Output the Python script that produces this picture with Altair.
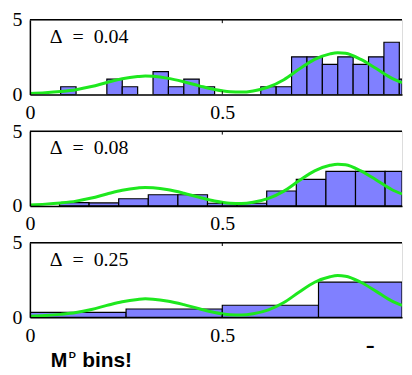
import altair as alt
import pandas as pd

# ---- data ----
p1_start = [0.08, 0.20, 0.24, 0.32, 0.36, 0.40, 0.44, 0.60, 0.64, 0.68, 0.72, 0.76, 0.80, 0.84, 0.88, 0.92, 0.96]
p1_width = 0.04
p1_dens = [0.52, 1.03, 0.52, 1.53, 0.52, 1.03, 0.52, 0.52, 0.52, 2.52, 2.52, 2.02, 2.52, 2.02, 2.52, 3.5, 1.03]

p2_start = [1/13, 2/13, 3/13, 4/13, 5/13, 6/13, 7/13, 8/13, 9/13, 10/13, 11/13, 12/13]
p2_width = 1/13
p2_dens = [0.22, 0.2, 0.48, 0.75, 0.75, 0.18, 0.18, 1.0, 1.78, 2.32, 2.32, 2.32]

p3_start = [0.0, 0.25, 0.5, 0.75]
p3_width = 0.25
p3_dens = [0.34, 0.56, 0.81, 2.36]

curve_x = [0.00, 0.04, 0.08, 0.12, 0.16, 0.20, 0.24, 0.28, 0.30, 0.32, 0.36, 0.40, 0.44, 0.48,
           0.52, 0.55, 0.58, 0.62, 0.66, 0.70, 0.74, 0.78, 0.80, 0.82, 0.86, 0.90, 0.94, 0.967]
curve_y = [0.07, 0.12, 0.2, 0.32, 0.53, 0.8, 1.05, 1.2, 1.24, 1.22, 1.08, 0.85, 0.58, 0.33,
           0.18, 0.16, 0.24, 0.5, 0.99, 1.7, 2.35, 2.72, 2.8, 2.76, 2.35, 1.74, 1.1, 0.8]

labels = ["\u0394\u2002=\u20020.04", "\u0394\u2002=\u20020.08", "\u0394\u2002=\u20020.25"]
x_ticks = [0, 0.5]
y_ticks = [0, 5]

BAR = "#8080ff"
GREEN = "#1ee81e"
W, H = 374, 75

xs = alt.Scale(domain=[0, 0.967], nice=False, zero=False, clamp=True)
ys = alt.Scale(domain=[0, 5], nice=False)

xaxis = alt.Axis(values=x_ticks, format="~g", title=None, grid=False, ticks=False, tickSize=0,
                 labelFont="Liberation Serif", labelFontSize=20, labelColor="black",
                 labelPadding=8, labelFlush=False, domainColor="black", domainWidth=1.5, zindex=1)
yaxis = alt.Axis(values=y_ticks, title=None, grid=False, ticks=False, tickSize=0,
                 labelFont="Liberation Serif", labelFontSize=20, labelColor="black",
                 labelPadding=8, domainColor="black", domainWidth=1.5, zindex=1,
                 minExtent=21, maxExtent=21)

curve_df = pd.DataFrame({"cx": curve_x, "cy": curve_y})
frame_df = pd.DataFrame({"v": [5]})
tick_df = pd.DataFrame({"tx": [0.5, 0.5], "ty": [5, 0], "ty2": [4.78, 0.22]})


def panel(starts, width, dens, label, extra=None):
    df = pd.DataFrame({"x0": starts, "x1": [s + width for s in starts], "h": dens,
                       "b": [0] * len(starts)})
    bars = alt.Chart(df).mark_rect(fill=BAR, stroke="black", strokeWidth=1.2, clip=True).encode(
        x=alt.X("x0:Q", scale=xs, axis=xaxis),
        x2="x1:Q",
        y=alt.Y("h:Q", scale=ys, axis=yaxis),
        y2="b:Q",
    )
    curve = alt.Chart(curve_df).mark_line(color=GREEN, strokeWidth=3, clip=True,
                                          interpolate="monotone").encode(
        x=alt.X("cx:Q", scale=xs), y=alt.Y("cy:Q", scale=ys))
    top = alt.Chart(frame_df).mark_rule(color="black", strokeWidth=1.5).encode(
        y=alt.Y("v:Q", scale=ys))
    ticks = alt.Chart(tick_df).mark_rule(color="black", strokeWidth=1).encode(
        x=alt.X("tx:Q", scale=xs), y=alt.Y("ty:Q", scale=ys), y2="ty2:Q")
    txt = alt.Chart(pd.DataFrame({"t": [label]})).mark_text(
        align="left", baseline="middle", font="Liberation Serif", fontSize=20, color="black"
    ).encode(x=alt.value(20), y=alt.value(17), text="t:N")
    layers = [bars, curve, top, ticks, txt]
    if extra:
        layers += extra
    return alt.layer(*layers).properties(width=W, height=H)


note = [
    alt.Chart(pd.DataFrame({"t": ["M"]})).mark_text(
        align="left", baseline="alphabetic", font="Liberation Sans", fontWeight="bold",
        fontSize=20, color="black").encode(x=alt.value(21), y=alt.value(125), text="t:N"),
    alt.Chart(pd.DataFrame({"t": ["D"]})).mark_text(
        align="left", baseline="alphabetic", font="Liberation Sans", fontWeight="bold",
        fontSize=10, color="black").encode(x=alt.value(39), y=alt.value(116), text="t:N"),
    alt.Chart(pd.DataFrame({"t": ["bins!"]})).mark_text(
        align="left", baseline="alphabetic", font="Liberation Sans", fontWeight="bold",
        fontSize=21, color="black").encode(x=alt.value(52.5), y=alt.value(125), text="t:N"),
    alt.Chart(pd.DataFrame({"t": ["\u25ac"]})).mark_text(
        align="center", baseline="middle", fontSize=7, color="black").encode(
        x=alt.value(342), y=alt.value(104), text="t:N"),
]

chart = alt.vconcat(
    panel(p1_start, p1_width, p1_dens, labels[0]),
    panel(p2_start, p2_width, p2_dens, labels[1]),
    panel(p3_start, p3_width, p3_dens, labels[2], extra=note),
    spacing=37, bounds="flush",
).properties(
    padding={"left": 0, "top": 0, "right": 0, "bottom": 0}
).configure_view(stroke=None).configure(background="white")

chart.save("out.html", embed_options={"renderer": "svg", "actions": False})
